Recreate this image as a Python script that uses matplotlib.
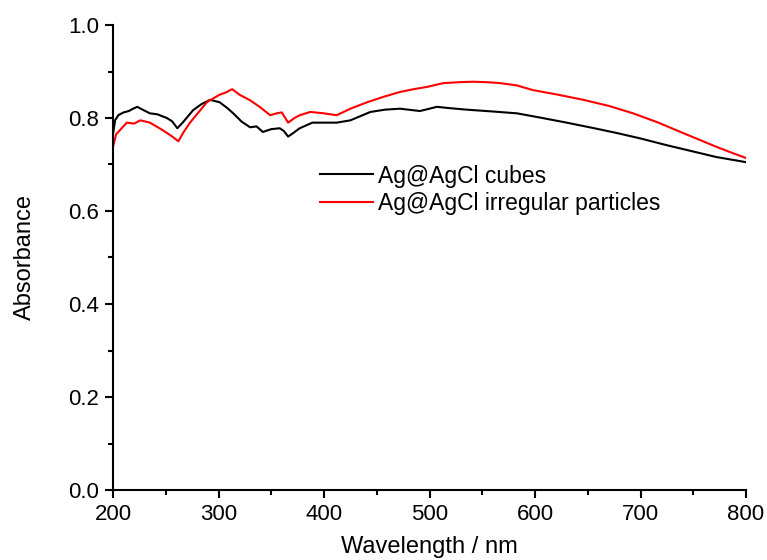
import numpy as np
import matplotlib.pyplot as plt
from matplotlib.ticker import MultipleLocator

plt.rcParams['font.family'] = ['Liberation Sans', 'DejaVu Sans']

# Ag@AgCl cubes
cube_wl = [200, 202, 205, 210, 215, 219, 223, 228, 235, 242, 251, 256, 261, 266, 276,
           284, 292, 301, 308, 314, 322, 330, 336, 342, 350, 358, 362, 366, 371, 377,
           389, 400, 412, 425, 444, 458, 472, 491, 507, 520, 535, 560, 583, 607, 630,
           654, 677, 700, 724, 748, 772, 790, 800]
cube_abs = [0.765, 0.795, 0.806, 0.812, 0.815, 0.820, 0.824, 0.818, 0.810, 0.808, 0.800, 0.793,
            0.778, 0.790, 0.817, 0.830, 0.839, 0.834, 0.822, 0.810, 0.792, 0.780, 0.782, 0.770,
            0.776, 0.778, 0.772, 0.760, 0.768, 0.778, 0.790, 0.790, 0.790, 0.795, 0.813, 0.818,
            0.820, 0.815, 0.824, 0.821, 0.818, 0.814, 0.810, 0.800, 0.790, 0.779, 0.768, 0.756,
            0.742, 0.729, 0.716, 0.709, 0.705]

# Ag@AgCl irregular particles
irr_wl = [200, 203, 207, 213, 220, 226, 235, 247, 255, 262, 267, 273, 281, 289, 295,
          301, 307, 313, 320, 330, 339, 349, 355, 360, 366, 372, 377, 387, 400, 412,
          425, 441, 457, 472, 485, 498, 513, 528, 541, 555, 567, 583, 598, 622, 646,
          670, 693, 717, 740, 756, 772, 788, 800]
irr_abs = [0.738, 0.765, 0.775, 0.790, 0.788, 0.795, 0.790, 0.774, 0.762, 0.750, 0.770,
           0.790, 0.812, 0.834, 0.842, 0.850, 0.855, 0.862, 0.850, 0.838, 0.824, 0.806,
           0.810, 0.812, 0.790, 0.800, 0.806, 0.813, 0.810, 0.806, 0.820, 0.834, 0.846,
           0.856, 0.862, 0.867, 0.875, 0.877, 0.878, 0.877, 0.875, 0.870, 0.860, 0.850,
           0.839, 0.826, 0.810, 0.790, 0.768, 0.753, 0.738, 0.724, 0.714]

fig = plt.figure(figsize=(7.67, 5.6), dpi=100)
ax = fig.add_axes([113 / 767, 70 / 560, 633 / 767, 465 / 560])

ax.plot(cube_wl, cube_abs, color='black', lw=1.5, label='Ag@AgCl cubes')
ax.plot(irr_wl, irr_abs, color='red', lw=1.5, label='Ag@AgCl irregular particles')

ax.set_xlim(200, 800)
ax.set_ylim(0, 1.0)
ax.xaxis.set_major_locator(MultipleLocator(100))
ax.xaxis.set_minor_locator(MultipleLocator(50))
ax.yaxis.set_major_locator(MultipleLocator(0.2))
ax.yaxis.set_minor_locator(MultipleLocator(0.1))
ax.yaxis.set_major_formatter(plt.FormatStrFormatter('%.1f'))
for s in ['top', 'right']:
    ax.spines[s].set_visible(False)
for s in ['left', 'bottom']:
    ax.spines[s].set_linewidth(1.5)
ax.tick_params(which='major', direction='out', length=6, width=1.5, labelsize=16, pad=4)
ax.tick_params(which='minor', direction='out', length=3.5, width=1.5)

ax.set_xlabel('Wavelength / nm', fontsize=17, labelpad=8)
ax.set_ylabel('Absorbance', fontsize=17, labelpad=23)

ax.legend(loc='upper left', bbox_to_anchor=(0.327, 0.70), frameon=False, fontsize=16.5,
          handlelength=2.3, handletextpad=0.22, labelspacing=0.2, borderpad=0,
          borderaxespad=0)

fig.savefig('out.png', dpi=100)
